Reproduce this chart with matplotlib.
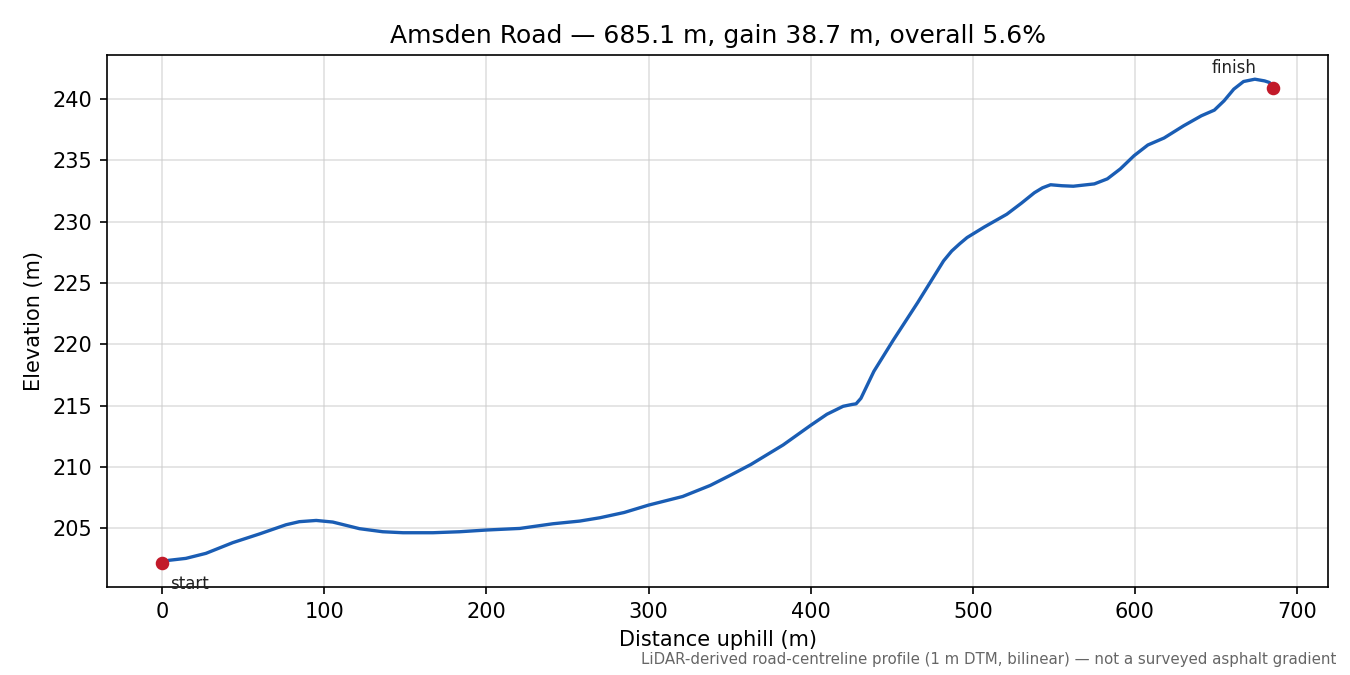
import matplotlib
matplotlib.use("Agg")
import matplotlib.pyplot as plt

# Profile data (distance uphill in m, elevation in m)
distance = [0, 4, 14.6, 27, 43.5, 60, 76.4, 84.6, 95, 105.2, 121.7, 136, 148.5, 167,
            183.5, 200, 220.6, 241, 257.6, 270, 285, 300, 321, 338, 350, 363, 383, 400,
            410, 420, 425.5, 428, 431, 439, 451, 466, 474, 482, 487, 492, 496.5, 507, 521,
            530, 538, 543, 548, 555, 562, 575, 583, 591, 599.5, 608, 618, 630, 641, 649, 655,
            661, 667, 674, 680, 683, 685.1]
elevation = [202.2, 202.4, 202.56, 202.97, 203.84, 204.55, 205.3, 205.55, 205.65, 205.52,
             204.98, 204.73, 204.65, 204.65, 204.73, 204.87, 205.0, 205.38, 205.6, 205.87,
             206.3, 206.9, 207.6, 208.5, 209.3, 210.2, 211.8, 213.4, 214.3, 214.95, 215.1,
             215.15, 215.6, 217.8, 220.35, 223.4, 225.1, 226.8, 227.6, 228.2, 228.7, 229.55,
             230.6, 231.5, 232.35, 232.75, 233.0, 232.92, 232.88, 233.07, 233.48, 234.29,
             235.37, 236.24, 236.81, 237.8, 238.62, 239.08, 239.84, 240.79, 241.41, 241.6,
             241.46, 241.33, 240.9]

title = "Amsden Road \u2014 685.1 m, gain 38.7 m, overall 5.6%"
footnote = "LiDAR-derived road-centreline profile (1 m DTM, bilinear) \u2014 not a surveyed asphalt gradient"

fig, ax = plt.subplots(figsize=(9, 4.5), dpi=150)
fig.subplots_adjust(left=0.079, right=0.984, top=0.9185, bottom=0.1304)

ax.plot(distance, elevation, color="#1a5db4", lw=1.6, zorder=2)
ax.plot([distance[0], distance[-1]], [elevation[0], elevation[-1]], "o",
        color="#c21a2a", ms=5.5, zorder=3)
ax.annotate("start", (distance[0], elevation[0]), xytext=(4, -6),
            textcoords="offset points", ha="left", va="top", fontsize=8, color="#222222")
ax.annotate("finish", (distance[-1], elevation[-1]), xytext=(-8, 5),
            textcoords="offset points", ha="right", va="bottom", fontsize=8, color="#222222")

ax.set_title(title, fontsize=12)
ax.set_xlabel("Distance uphill (m)", fontsize=10)
ax.set_ylabel("Elevation (m)", fontsize=10)
ax.grid(True, color="#cccccc", alpha=0.6, lw=0.8)
ax.set_axisbelow(True)

fig.text(0.99, 0.012, footnote, ha="right", va="bottom", fontsize=7.2, color="#666666")

fig.savefig("out.png", dpi=150)
